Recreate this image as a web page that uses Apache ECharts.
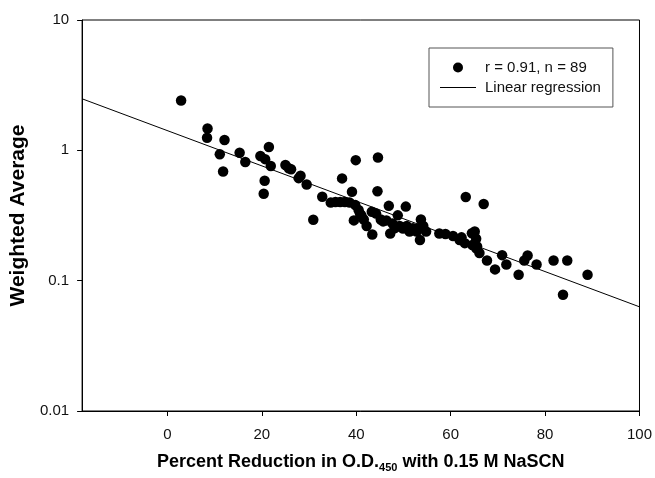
<!DOCTYPE html>
<html>
<head>
<meta charset="utf-8">
<script src="https://cdn.jsdelivr.net/npm/echarts@6/dist/echarts.min.js"></script>
<style>html,body{margin:0;padding:0;background:#fff}#c{width:655px;height:478px}</style>
</head>
<body>
<div id="c"></div>
<script>
const percentReduction = [2.9,8.5,8.4,12.1,11.1,11.8,15.3,16.5,19.7,20.7,21.5,20.6,20.4,21.9,25.0,25.7,26.2,28.2,27.8,29.5,30.9,32.8,34.6,35.6,36.6,37.0,37.6,38.6,39.1,39.9,39.8,40.5,40.8,39.5,41.1,41.6,42.2,43.4,44.6,44.5,44.2,43.3,45.2,45.7,46.4,46.9,47.2,47.7,48.2,48.8,49.2,49.9,50.5,50.7,51.3,52.0,52.8,53.2,53.7,53.5,54.2,54.8,57.6,58.9,60.5,61.9,62.3,63.2,63.0,64.5,65.1,65.4,64.6,65.6,65.4,66.1,67.0,67.7,69.4,70.9,71.8,74.4,75.6,76.3,78.2,81.8,83.8,84.7,89.0];
const weightedAverage = [2.41,1.47,1.25,1.20,0.933,0.687,0.959,0.813,0.906,0.856,1.06,0.585,0.464,0.759,0.772,0.728,0.717,0.638,0.612,0.546,0.293,0.441,0.397,0.402,0.402,0.609,0.402,0.397,0.481,0.841,0.380,0.348,0.327,0.290,0.317,0.295,0.263,0.226,0.880,0.486,0.327,0.338,0.295,0.285,0.290,0.375,0.230,0.274,0.253,0.317,0.263,0.251,0.370,0.263,0.238,0.253,0.238,0.253,0.295,0.205,0.263,0.238,0.230,0.228,0.220,0.205,0.215,0.439,0.194,0.231,0.238,0.210,0.188,0.183,0.177,0.163,0.387,0.143,0.122,0.157,0.133,0.111,0.143,0.156,0.133,0.143,0.078,0.143,0.111];
const regressionX = [-18.07, 100];
const regressionY = [2.485, 0.063];
const xTicks = [0, 20, 40, 60, 80, 100];
const yTicks = [0.01, 0.1, 1, 10];

const scatterData = percentReduction.map((x, i) => [x, weightedAverage[i]]);
const lineData = regressionX.map((x, i) => [x, regressionY[i]]);

const chart = echarts.init(document.getElementById('c'), null, {renderer: 'canvas'});
const font = 'Liberation Sans, Arial, Helvetica, sans-serif';
chart.setOption({
  animation: false,
  backgroundColor: '#fff',
  textStyle: {fontFamily: font},
  grid: {left: 82, right: 14, top: 20, bottom: 58, show: true, borderColor: '#000', borderWidth: 1, backgroundColor: 'transparent'},
  xAxis: {
    type: 'value', min: -18.07, max: 100,
    name: '{a|Percent Reduction in O.D.}{s|450}{a| with 0.15 M NaSCN}',
    nameLocation: 'middle', nameGap: 40,
    nameTextStyle: {rich: {
      a: {fontFamily: font, fontSize: 18, fontWeight: 'bold', color: '#000'},
      s: {fontFamily: font, fontSize: 11, fontWeight: 'bold', color: '#000', padding: [11, 0, 0, 0]}
    }},
    axisLine: {show: true, onZero: false, lineStyle: {color: '#000', width: 1}},
    axisTick: {show: true, length: 5, lineStyle: {color: '#000'}, customValues: xTicks},
    axisLabel: {color: '#111', fontSize: 15, margin: 16, customValues: xTicks},
    splitLine: {show: false}
  },
  yAxis: {
    type: 'log', logBase: 10, min: 0.01, max: 10,
    name: 'Weighted Average', nameLocation: 'middle', nameGap: 48,
    nameTextStyle: {fontFamily: font, fontSize: 21, fontWeight: 'bold', color: '#000'},
    axisLine: {show: true, onZero: false, lineStyle: {color: '#000', width: 1}},
    axisTick: {show: true, length: 5, lineStyle: {color: '#000'}, customValues: yTicks},
    axisLabel: {color: '#111', fontSize: 15, margin: 13, customValues: yTicks,
      formatter: v => String(+v.toPrecision(3))},
    splitLine: {show: false}, minorTick: {show: false}
  },
  legend: {
    orient: 'vertical', left: 429, top: 48,
    padding: [12, 12, 12, 11], itemGap: 5, itemWidth: 36, itemHeight: 10,
    borderColor: '#555', borderWidth: 1, backgroundColor: '#fff',
    textStyle: {fontFamily: font, fontSize: 15, color: '#111', padding: [0, 0, 0, 4]},
    data: [
      {name: 'r = 0.91, n = 89', icon: 'circle', itemStyle: {color: '#000'}},
      {name: 'Linear regression', icon: 'path://M0 0H36V1H0Z', itemStyle: {color: '#000'}}
    ]
  },
  series: [
    {name: 'Linear regression', type: 'line', data: lineData, symbol: 'none',
      itemStyle: {color: '#000'}, lineStyle: {color: '#000', width: 1}, z: 1},
    {name: 'r = 0.91, n = 89', type: 'scatter', data: scatterData, symbolSize: 10.5,
      itemStyle: {color: '#000', opacity: 1}, z: 2}
  ]
});
</script>
</body>
</html>
